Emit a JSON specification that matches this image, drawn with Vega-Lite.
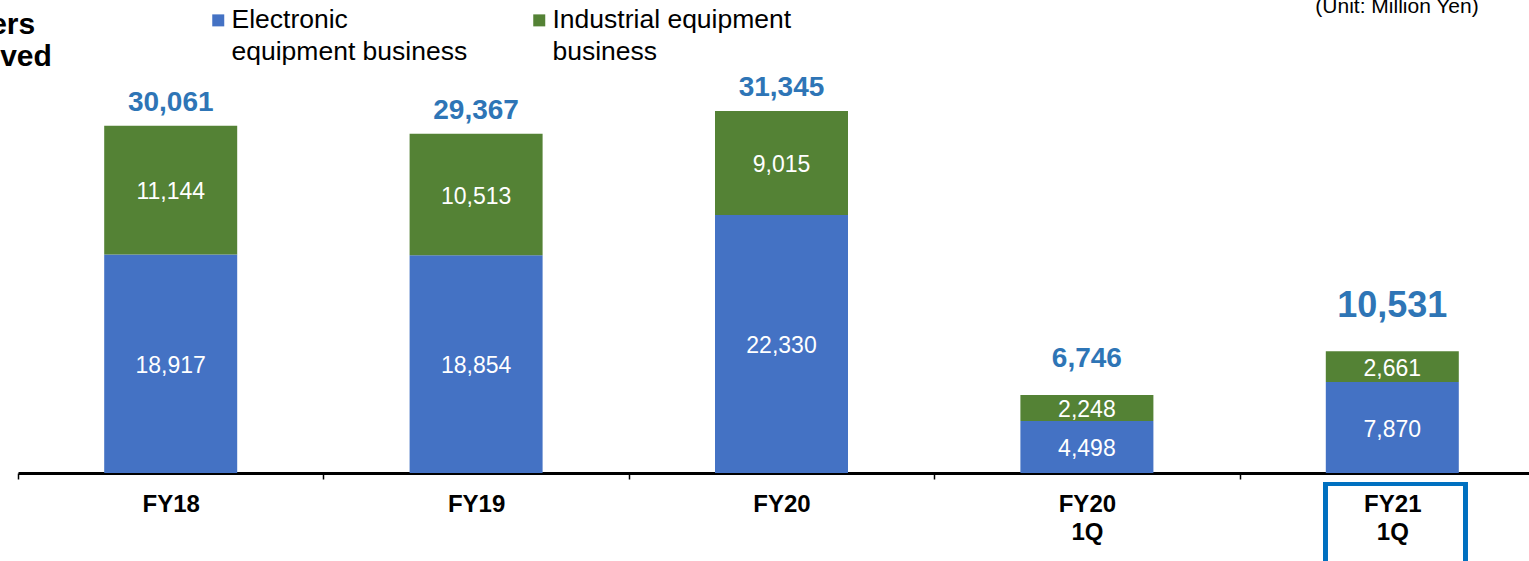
{
  "$schema": "https://vega.github.io/schema/vega-lite/v6.json",
  "width": 1511,
  "height": 462,
  "autosize": {"type": "none"},
  "padding": {"left": 18, "top": 11, "right": 0, "bottom": 88},
  "config": {"font": "Liberation Sans", "view": {"stroke": null}},
  "title": {
    "text": ["Orders", "Received"],
    "anchor": "start",
    "align": "center",
    "orient": "top",
    "frame": "group",
    "dx": -32,
    "dy": 77,
    "offset": 0,
    "baseline": "top",
    "fontSize": 30,
    "fontWeight": "bold",
    "lineHeight": 32,
    "color": "#000000"
  },
  "data": {
    "values": [
      {"period": "FY18", "series": "Electronic equipment business", "value": 18917},
      {"period": "FY18", "series": "Industrial equipment business", "value": 11144},
      {"period": "FY19", "series": "Electronic equipment business", "value": 18854},
      {"period": "FY19", "series": "Industrial equipment business", "value": 10513},
      {"period": "FY20", "series": "Electronic equipment business", "value": 22330},
      {"period": "FY20", "series": "Industrial equipment business", "value": 9015},
      {"period": "FY20 1Q", "series": "Electronic equipment business", "value": 4498},
      {"period": "FY20 1Q", "series": "Industrial equipment business", "value": 2248},
      {"period": "FY21 1Q", "series": "Electronic equipment business", "value": 7870},
      {"period": "FY21 1Q", "series": "Industrial equipment business", "value": 2661}
    ]
  },
  "encoding": {
    "x": {
      "field": "period",
      "type": "nominal",
      "sort": ["FY18", "FY19", "FY20", "FY20 1Q", "FY21 1Q"],
      "scale": {"range": [0, 1527], "paddingInner": 0, "paddingOuter": 0},
      "axis": {
        "title": "(Unit: Million Yen)",
        "titleX": 1378.5,
        "titleY": -461,
        "titleAlign": "center",
        "titleBaseline": "alphabetic",
        "titleFontSize": 21,
        "titleFontWeight": "normal",
        "titleColor": "#000000",
        "domainColor": "#000000",
        "domainWidth": 3,
        "tickColor": "#000000",
        "tickWidth": 1.5,
        "tickSize": 6,
        "tickOffset": -152.75,
        "labelOffset": 152.75,
        "labelAngle": 0,
        "labelFontSize": 24,
        "labelFontWeight": "bold",
        "labelColor": "#000000",
        "labelBaseline": "top",
        "labelLineHeight": 28,
        "labelPadding": 13,
        "labelExpr": "split(datum.label, ' ')",
        "grid": false
      }
    }
  },
  "layer": [
    {
      "mark": {"type": "bar", "width": 133},
      "encoding": {
        "y": {
          "field": "value",
          "type": "quantitative",
          "stack": "zero",
          "scale": {"domain": [0, 40000], "nice": false},
          "axis": null
        },
        "color": {
          "field": "series",
          "type": "nominal",
          "scale": {
            "domain": ["Electronic equipment business", "Industrial equipment business"],
            "range": ["#4472C4", "#548235"]
          },
          "legend": {
            "orient": "none",
            "legendX": 187,
            "legendY": -4,
            "direction": "horizontal",
            "title": null,
            "padding": 0,
            "symbolType": "square",
            "symbolSize": 144,
            "symbolStrokeWidth": 0,
            "symbolOpacity": 1,
            "labelFontSize": 26.5,
            "labelColor": "#000000",
            "labelOffset": 0,
            "labelLimit": 400,
            "labelBaseline": "top",
            "columnPadding": 58,
            "labelExpr": "datum.label == 'Electronic equipment business' ? ['Electronic', 'equipment business'] : ['Industrial equipment', 'business']",
            "encode": {
              "labels": {
                "update": {
                  "lineHeight": {"value": 32},
                  "dy": {"value": -13}
                }
              }
            }
          }
        },
        "order": {"field": "series", "sort": "ascending"}
      }
    },
    {
      "transform": [
        {"stack": "value", "groupby": ["period"], "sort": [{"field": "series", "order": "ascending"}], "as": ["v0", "v1"]},
        {"calculate": "(datum.v0 + datum.v1) / 2", "as": "mid"}
      ],
      "mark": {"type": "text", "color": "#FFFFFF", "fontSize": 23, "baseline": "middle", "dy": 2},
      "encoding": {
        "y": {"field": "mid", "type": "quantitative", "axis": null},
        "text": {"field": "value", "type": "quantitative", "format": ","}
      }
    },
    {
      "transform": [{"filter": "datum.period == 'FY18' || datum.period == 'FY19' || datum.period == 'FY20'"}],
      "mark": {"type": "text", "color": "#2E75B6", "fontSize": 28, "fontWeight": "bold", "baseline": "alphabetic", "dy": -15},
      "encoding": {
        "y": {"aggregate": "sum", "field": "value", "type": "quantitative", "axis": null},
        "text": {"aggregate": "sum", "field": "value", "type": "quantitative", "format": ","}
      }
    },
    {
      "transform": [{"filter": "datum.period == 'FY20 1Q'"}],
      "mark": {"type": "text", "color": "#2E75B6", "fontSize": 28, "fontWeight": "bold", "baseline": "alphabetic", "dy": -28},
      "encoding": {
        "y": {"aggregate": "sum", "field": "value", "type": "quantitative", "axis": null},
        "text": {"aggregate": "sum", "field": "value", "type": "quantitative", "format": ","}
      }
    },
    {
      "transform": [{"filter": "datum.period == 'FY21 1Q'"}],
      "mark": {"type": "text", "color": "#2E75B6", "fontSize": 36, "fontWeight": "bold", "baseline": "alphabetic", "dy": -34},
      "encoding": {
        "y": {"aggregate": "sum", "field": "value", "type": "quantitative", "axis": null},
        "text": {"aggregate": "sum", "field": "value", "type": "quantitative", "format": ","}
      }
    },
    {
      "mark": {"type": "bar", "width": 140, "xOffset": 3, "fill": "transparent", "stroke": "#0070C0", "strokeWidth": 4},
      "encoding": {
        "x": {"datum": "FY21 1Q"},
        "y": {"datum": -952, "axis": null},
        "y2": {"datum": -7900}
      }
    }
  ]
}
